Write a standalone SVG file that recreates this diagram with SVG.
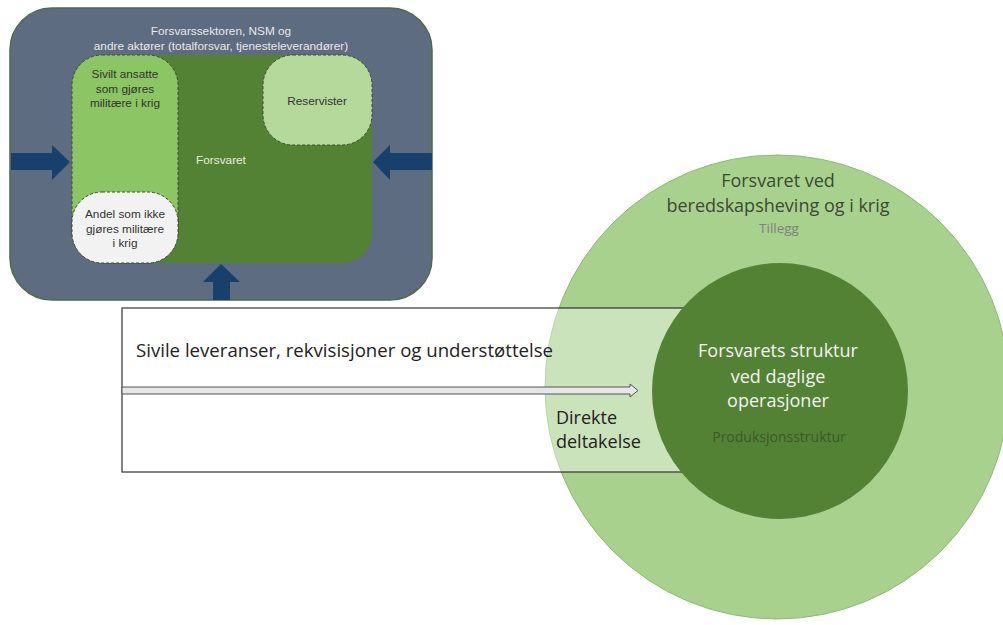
<svg xmlns="http://www.w3.org/2000/svg" width="1003" height="625" viewBox="0 0 1003 625">
<defs>
<style>
.sm{font-family:"Liberation Sans",Arial,sans-serif;font-size:11.8px;text-anchor:middle}
.lg{font-family:"Open Sans","Liberation Sans",sans-serif;text-anchor:middle}
.bx{font-family:"Open Sans","Liberation Sans",sans-serif;font-size:18px;fill:#222}
.dash{stroke:#3d4a3a;stroke-width:1;stroke-dasharray:3 2}
.arrow{fill:#17406d}
</style>
</defs>
<rect x="0" y="0" width="1003" height="625" fill="#ffffff"/>
<g id="outer">
<rect x="10" y="8" width="422" height="292" rx="42" fill="#5d6c80" stroke="#4d6a4a" stroke-width="1.5"/>
<text class="sm" x="221" y="35" fill="#e8e8e8">Forsvarssektoren, NSM og</text>
<text class="sm" x="221" y="50" fill="#e8e8e8">andre aktører (totalforsvar, tjenesteleverandører)</text>
</g>
<g id="forsvaret">
<rect x="72" y="55" width="300" height="208" rx="30" fill="#548235"/>
<text class="sm" x="221" y="164" fill="#e6eedd">Forsvaret</text>
</g>
<g id="sivilt">
<rect x="72" y="55" width="106" height="208" rx="30" fill="#8cc563" class="dash"/>
<text class="sm" x="125" y="78" fill="#333">Sivilt ansatte</text>
<text class="sm" x="125" y="93" fill="#333">som gjøres</text>
<text class="sm" x="125" y="107" fill="#333">militære i krig</text>
</g>
<g id="andel">
<rect x="72" y="192" width="106" height="71" rx="30" fill="#f2f2f2" class="dash"/>
<text class="sm" x="125" y="218" fill="#333">Andel som ikke</text>
<text class="sm" x="125" y="233" fill="#333">gjøres militære</text>
<text class="sm" x="125" y="247" fill="#333">i krig</text>
</g>
<g id="reservister">
<rect x="263" y="55" width="109" height="90" rx="30" fill="#b4d99b" class="dash"/>
<text class="sm" x="317" y="105" fill="#333">Reservister</text>
</g>
<g id="connectors">
<polygon class="arrow" points="11,153 52,153 52,145 70,162 52,180 52,170 11,170"/>
<polygon class="arrow" points="432,153 390,153 390,145 373,162 390,180 390,170 432,170"/>
<polygon class="arrow" points="213,300 213,282 203,282 221,264 240,282 230,282 230,300"/>
</g>
<g id="tillegg">
<circle cx="777" cy="387" r="232" fill="#a9d18e" stroke="#90b878" stroke-width="1"/>
<text class="lg" x="778" y="187" font-size="18" fill="#3b4a33">Forsvaret ved</text>
<text class="lg" x="778" y="212" font-size="18" fill="#3b4a33">beredskapsheving og i krig</text>
<text class="lg" x="779" y="233" font-size="13.5" fill="#808080">Tillegg</text>
</g>
<g id="sivile">
<rect x="122" y="308" width="580" height="164" fill="#ffffff" fill-opacity="0.4" stroke="#333" stroke-width="1.2"/>
<text class="bx" x="136" y="357" textLength="417" lengthAdjust="spacingAndGlyphs">Sivile leveranser, rekvisisjoner og understøttelse</text>
<text class="bx" x="556" y="424">Direkte</text>
<text class="bx" x="556" y="448">deltakelse</text>
</g>
<g id="connectors2">
<polygon points="122,387 630,387 630,384 638,390.5 630,397 630,394 122,394" fill="#e6e6e6" stroke="#555" stroke-width="1"/>
</g>
<g id="struktur">
<circle cx="780" cy="391" r="128" fill="#548235"/>
<text class="lg" x="778" y="357" font-size="18" fill="#f2f2f2">Forsvarets struktur</text>
<text class="lg" x="778" y="383" font-size="18" fill="#f2f2f2">ved daglige</text>
<text class="lg" x="778" y="407" font-size="18" fill="#f2f2f2">operasjoner</text>
<text class="lg" x="779" y="442" font-size="14" fill="#3a5a26">Produksjonsstruktur</text>
</g>
</svg>
